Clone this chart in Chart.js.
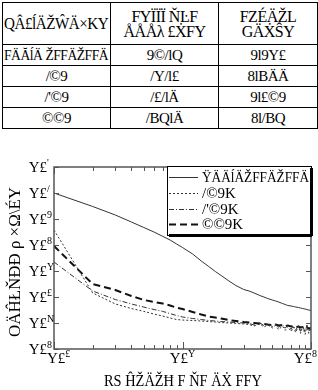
<!DOCTYPE html>
<html>
<head>
<meta charset="utf-8">
<script src="https://cdn.jsdelivr.net/npm/chart.js@4.4.0/dist/chart.umd.min.js"></script>
<style>
  html, body { margin: 0; padding: 0; background: #fff; width: 318px; height: 390px; overflow: hidden; }
  #tbl { position: absolute; left: 2px; top: 2px; width: 315px; border-collapse: collapse;
         font-family: "Liberation Serif", serif; color: #000; table-layout: fixed; }
  #tbl td { border: 1px solid #000; text-align: center; padding: 0; font-size: 15px; line-height: 15px; height: 20px;
            white-space: nowrap; overflow: visible; letter-spacing: -0.5px; }
  #tbl tr.head td { height: 41px; font-size: 16px; }
  #tbl td span { display: inline-block; }
  #wrap { position: absolute; left: 0; top: 130px; width: 318px; height: 260px; }
</style>
</head>
<body>
<table id="tbl">
  <colgroup><col style="width:108px"><col style="width:108px"><col style="width:99px"></colgroup>
</table>
<div id="wrap"><canvas id="chart" width="318" height="260"></canvas></div>
<script>
// --- table text ---
const tableHeader = ['QÂ£ĺÄŽŴÄ×KY', 'FYÏÏÏ ŇĿF<br>ÅÅÅλ £ẊFY', 'FZÉÄŽL<br>GÄẊŜY'];
const tableRows = [
  ['FÄĂĺÄ ŽFFÄŽFFÄ', '9©/lQ', '9l9Y£'],
  ['/©9', '/Y/l£', '8lBÄÄ'],
  ['/\'©9', '/£/lÄ', '9l£©9'],
  ['©©9', '/BQlÄ', '8l/BQ']
];

// --- chart data ---
const xValues = [1, 2, 3, 4, 5, 6, 7, 8, 9, 10, 12, 14, 16, 18, 20, 23, 26, 30, 33, 36, 40, 43, 46, 50,
                 53, 56, 60, 63, 66, 70, 73, 76, 80, 83, 86, 90, 93, 96, 100];
const baseline = [10000, 3030, 1425, 767, 471, 316, 216, 156, 109, 80, 45, 24.2, 14.9, 9.57, 6.71, 4.12, 2.77, 1.94, 1.70, 1.43, 1.14, 1.0, 0.876, 0.767,
                  0.702, 0.643, 0.562, 0.515, 0.471, 0.451, 0.431, 0.412, 0.394, 0.377, 0.361, 0.345, 0.330, 0.316, 0.303];
const series40 = [377, 1.43, 0.54, 0.36, 0.28, 0.22, 0.186, 0.156, 0.136, 0.130, 0.125, 0.119, 0.114, 0.109, 0.104, 0.100, 0.096, 0.092, 0.0875, 0.0767, 0.092, 0.0702, 0.0838, 0.0643,
                  0.0801, 0.0560, 0.0767, 0.0520, 0.0733, 0.0470, 0.0702, 0.0430, 0.0760, 0.0400, 0.0730, 0.0365, 0.0790, 0.0400, 0.0643];
const series45 = [22.2, 1.70, 0.80, 0.54, 0.41, 0.33, 0.28, 0.23, 0.194, 0.170, 0.149, 0.136, 0.125, 0.119, 0.114, 0.109, 0.104, 0.100, 0.096, 0.0838, 0.100, 0.0801, 0.092, 0.0733,
                  0.0875, 0.0690, 0.0860, 0.0630, 0.0860, 0.0575, 0.0790, 0.0525, 0.0830, 0.0480, 0.0790, 0.0440, 0.0830, 0.0480, 0.0702];
const series00 = [91.5, 3.16, 1.86, 1.09, 0.77, 0.64, 0.56, 0.47, 0.39, 0.345, 0.265, 0.212, 0.178, 0.163, 0.149, 0.130, 0.119, 0.109, 0.104, 0.100, 0.096, 0.092, 0.0875, 0.0838,
                  0.0875, 0.0801, 0.0838, 0.0767, 0.0801, 0.0733, 0.0767, 0.0702, 0.0733, 0.0671, 0.0702, 0.0643, 0.0671, 0.0615, 0.0643];
const seriesLabels = ['ŸÄÄĺÄŽFFÄŽFFÄ', '/©9K', '/\'©9K', '©©9K'];

const yTickValues = [1e5, 1e4, 1e3, 1e2, 1e1, 1, 1e-1, 1e-2];
const yTickSups = ['\'', '/', '9', '8', 'Y', '£', 'N', '8'];
const xTickValues = [1, 10, 100];
const xTickSups = ['£', 'Y', '8'];
const tickBase = 'Y£';
const xTitle = 'RS ĤŽÄŽĦ F ŇF ÄẊ FFY';
const yTitle = 'OÄĤŁŇĐĐ ρ ×Ω\\ÉY';

// build the table
const tbl = document.getElementById('tbl');
let html = '<tr class="head">' + tableHeader.map(t => `<td><span>${t}</span></td>`).join('') + '</tr>';
tableRows.forEach(r => { html += '<tr>' + r.map(t => `<td><span>${t}</span></td>`).join('') + '</tr>'; });
tbl.insertAdjacentHTML('beforeend', html);
// squeeze any text wider than its cell
tbl.querySelectorAll('td').forEach(td => {
  const s = td.firstChild;
  const room = td.clientWidth - 3;
  if (s.offsetWidth > room) {
    s.style.transformOrigin = 'left center';
    s.style.transform = `scaleX(${room / s.offsetWidth})`;
    td.style.textAlign = 'left';
    td.style.paddingLeft = '1px';
  }
});

const FONT = '"Liberation Serif", serif';

// frame, inward ticks, tick labels, titles and the boxed legend
const decorations = {
  id: 'decorations',
  afterDatasetsDraw(chart) {
    const { ctx, chartArea: a, scales: { x, y } } = chart;
    ctx.save();
    ctx.strokeStyle = '#555';
    ctx.lineWidth = 1;
    const seg = (x1, y1, x2, y2) => { ctx.beginPath(); ctx.moveTo(x1, y1); ctx.lineTo(x2, y2); ctx.stroke(); };

    ctx.lineWidth = 1.5;
    ctx.strokeRect(a.left, a.top, a.right - a.left, a.bottom - a.top);
    ctx.lineWidth = 1;

    yTickValues.forEach(v => {
      const py = Math.round(y.getPixelForValue(v)) + 0.5;
      seg(a.left, py, a.left + 5, py);
      seg(a.right - 5, py, a.right, py);
    });
    for (let d = 1; d < 100; d *= 10) {
      for (let k = 2; k <= 9; k++) {
        const px = Math.round(x.getPixelForValue(d * k)) + 0.5;
        seg(px, a.bottom, px, a.bottom - 4);
        seg(px, a.top, px, a.top + 4);
      }
    }
    xTickValues.forEach(v => {
      const px = Math.round(x.getPixelForValue(v)) + 0.5;
      seg(px, a.bottom, px, a.bottom - 7);
      seg(px, a.top, px, a.top + 7);
    });

    // tick labels
    ctx.fillStyle = '#000';
    ctx.textBaseline = 'middle';
    yTickValues.forEach((v, i) => {
      const py = y.getPixelForValue(v);
      ctx.font = '15px ' + FONT;
      ctx.textAlign = 'right';
      ctx.fillText(tickBase, 47, py + 1);
      ctx.font = '10px ' + FONT;
      ctx.textAlign = 'left';
      ctx.fillText(yTickSups[i], 47, py - 4);
    });
    xTickValues.forEach((v, i) => {
      const px = x.getPixelForValue(v);
      ctx.font = '15px ' + FONT;
      const w1 = ctx.measureText(tickBase).width;
      ctx.font = '10px ' + FONT;
      const w2 = ctx.measureText(xTickSups[i]).width;
      let start = px - (w1 + w2) / 2;
      start = Math.max(47, Math.min(start, 317 - w1 - w2));
      ctx.textAlign = 'left';
      ctx.font = '15px ' + FONT;
      ctx.fillText(tickBase, start, a.bottom + 10);
      ctx.font = '10px ' + FONT;
      ctx.fillText(xTickSups[i], start + w1, a.bottom + 5);
    });

    // axis titles
    ctx.font = '17px ' + FONT;
    ctx.textAlign = 'center';
    ctx.fillText(xTitle, 183, a.bottom + 33, 158);
    ctx.save();
    ctx.translate(16, 132);
    ctx.rotate(-Math.PI / 2);
    ctx.fillText(yTitle, 0, 0, 150);
    ctx.restore();

    // legend box with drop shadow
    const bx = 167, by = a.top - 1, bw = a.right + 1 - bx, bh = 70;
    ctx.fillStyle = '#fff';
    ctx.fillRect(bx, by, bw, bh);
    ctx.strokeStyle = '#000';
    ctx.lineWidth = 1;
    ctx.strokeRect(bx + 0.5, by + 0.5, bw - 1, bh - 1);
    ctx.fillStyle = '#000';
    ctx.fillRect(bx + 2, by + bh - 2, bw - 2, 3);
    ctx.fillRect(bx + bw - 2, by + 2, 3, bh - 2);
    const rowY = [11, 27, 43, 58];
    chart.data.datasets.forEach((ds, i) => {
      const ly = by + rowY[i] + 0.5;
      ctx.strokeStyle = ds.borderColor;
      ctx.lineWidth = ds.borderWidth;
      ctx.setLineDash(ds.borderDash || []);
      seg(169, ly, 198, ly);
      ctx.setLineDash([]);
      ctx.font = '15px ' + FONT;
      ctx.textAlign = 'left';
      ctx.fillStyle = '#000';
      ctx.fillText(ds.label, 202, ly + 1, bw - 38);
    });
    ctx.restore();
  }
};

const points = arr => xValues.map((v, i) => ({ x: v, y: arr[i] }));

new Chart(document.getElementById('chart'), {
  type: 'line',
  data: {
    datasets: [
      { label: seriesLabels[0], data: points(baseline), borderColor: '#333', borderWidth: 1 },
      { label: seriesLabels[1], data: points(series40), borderColor: '#333', borderWidth: 1, borderDash: [2, 2] },
      { label: seriesLabels[2], data: points(series45), borderColor: '#333', borderWidth: 1, borderDash: [5, 2, 1, 2] },
      { label: seriesLabels[3], data: points(series00), borderColor: '#111', borderWidth: 2, borderDash: [7, 4] }
    ]
  },
  options: {
    responsive: false,
    animation: false,
    devicePixelRatio: 1,
    layout: { padding: { left: 54, top: 37, right: 7, bottom: 41 } },
    elements: { point: { radius: 0 }, line: { tension: 0 } },
    scales: {
      x: { type: 'logarithmic', min: 1, max: 100, display: false },
      y: { type: 'logarithmic', min: 0.01, max: 1e5, display: false }
    },
    plugins: { legend: { display: false }, tooltip: { enabled: false } }
  },
  plugins: [decorations]
});
</script>
</body>
</html>
